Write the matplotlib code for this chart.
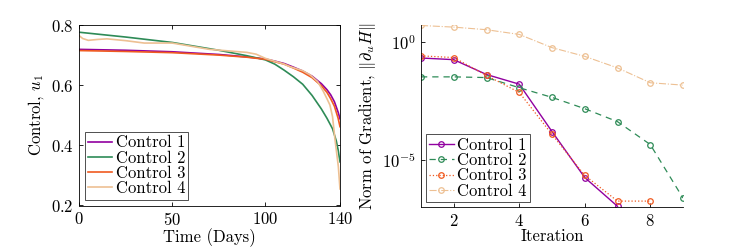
import matplotlib
matplotlib.use("Agg")
import matplotlib.pyplot as plt
from matplotlib.ticker import LogFormatterMathtext, FixedLocator
import numpy as np

plt.rcParams['font.family'] = 'serif'
plt.rcParams['font.serif'] = ['cmr10']
plt.rcParams['mathtext.fontset'] = 'cm'
plt.rcParams['axes.formatter.use_mathtext'] = True

labels = ['Control 1', 'Control 2', 'Control 3', 'Control 4']
colors = ['#9100A0', '#2E8B57', '#F05A20', '#EDC093']

# Left panel: control trajectories
t1 = [0, 25, 50, 75, 90, 100, 105, 110, 115, 120, 125, 130, 133, 135, 137, 139, 140]
u1 = [0.719, 0.716, 0.711, 0.702, 0.694, 0.687, 0.680, 0.672, 0.660, 0.647, 0.630, 0.605, 0.585, 0.568, 0.545, 0.510, 0.488]
t2 = [0, 25, 50, 75, 90, 100, 105, 110, 115, 120, 125, 130, 133, 136, 138, 139, 140]
u2 = [0.776, 0.760, 0.742, 0.716, 0.698, 0.684, 0.670, 0.650, 0.628, 0.603, 0.566, 0.521, 0.490, 0.455, 0.415, 0.385, 0.345]
t3 = [0, 25, 50, 75, 90, 100, 110, 115, 120, 125, 130, 133, 135, 137, 139, 140]
u3 = [0.715, 0.712, 0.708, 0.700, 0.693, 0.686, 0.670, 0.657, 0.643, 0.625, 0.598, 0.576, 0.555, 0.530, 0.490, 0.462]
t4 = [0, 2, 5, 10, 15, 25, 35, 50, 70, 90, 95, 100, 110, 113, 120, 124, 128, 131, 133, 134.6, 136, 137.3, 139.1, 140]
u4 = [0.765, 0.755, 0.749, 0.752, 0.754, 0.748, 0.740, 0.740, 0.719, 0.709, 0.703, 0.689, 0.670, 0.662, 0.648, 0.634, 0.612, 0.580, 0.555, 0.534, 0.495, 0.420, 0.330, 0.255]

it1 = [1, 2, 3, 4, 5, 6, 7]
g1 = [-0.68, -0.75, -1.38, -1.79, -3.80, -5.75, -6.97]
it2 = [1, 2, 3, 4, 5, 6, 7, 8, 9]
g2 = [-1.48, -1.48, -1.51, -1.94, -2.35, -2.83, -3.38, -4.35, -6.62]
it3 = [1, 2, 3, 4, 5, 6, 7, 8]
g3 = [-0.59, -0.66, -1.42, -2.14, -3.92, -5.66, -6.75, -6.75]
it4 = [1, 2, 3, 4, 5, 6, 7, 8, 9]
g4 = [0.70, 0.63, 0.52, 0.32, -0.24, -0.61, -1.10, -1.73, -1.83]

fig = plt.figure(figsize=(7.36, 2.5), dpi=100)
W, H = 736, 250
ax1 = fig.add_axes([79 / W, 1 - 205.5 / H, (340 - 79) / W, (205.5 - 25) / H])
ax2 = fig.add_axes([421 / W, 1 - 207 / H, (683 - 421) / W, (207 - 25) / H])

fs = 12
for t, u, c, l in zip([t1, t2, t3, t4], [u1, u2, u3, u4], colors, labels):
    ax1.plot(t, u, color=c, lw=1.2, label=l)
ax1.set_xlim(0, 140)
ax1.set_ylim(0.2, 0.8)
ax1.set_xticks([0, 50, 100, 140])
ax1.set_yticks([0.2, 0.4, 0.6, 0.8])
ax1.set_xlabel('Time (Days)', fontsize=fs, labelpad=0)
ax1.set_ylabel('Control, $u_1$', fontsize=fs, labelpad=3)
ax1.tick_params(direction='in', labelsize=fs, top=True, right=True, length=3, pad=4, width=0.6)
for s in ax1.spines.values():
    s.set_linewidth(0.6)
leg1 = ax1.legend(loc='lower left', fontsize=fs, frameon=True, fancybox=False,
                  edgecolor='black', handlelength=1.45, handletextpad=0.2,
                  borderpad=0.2, labelspacing=0.0, borderaxespad=0.35)
leg1.get_frame().set_linewidth(0.6)

styles = ['-', (0, (5, 4)), ':', '-.']
lws = [1.0, 0.9, 0.9, 0.8]
for it, g, c, l, ls, lw in zip([it1, it2, it3, it4], [g1, g2, g3, g4], colors, labels, styles, lws):
    ax2.semilogy(it, 10.0 ** np.array(g), color=c, ls=ls, lw=lw, marker='o', ms=4,
                 mfc='none', mew=0.9, label=l)
ax2.set_xlim(1, 9)
ax2.set_ylim(1e-7, 10 ** 0.72)
ax2.set_xticks([2, 4, 6, 8])
ax2.yaxis.set_major_locator(FixedLocator([1e-5, 1e0]))
ax2.yaxis.set_major_formatter(LogFormatterMathtext())
ax2.yaxis.set_minor_locator(FixedLocator([]))
ax2.set_xlabel('Iteration', fontsize=fs, labelpad=0)
ax2.set_ylabel(r'Norm of Gradient, $\|\partial_u H\|$', fontsize=fs, labelpad=3)
ax2.tick_params(direction='in', labelsize=fs, length=3, pad=4, width=0.6)
ax2.spines['top'].set_visible(False)
ax2.spines['right'].set_visible(False)
for s in ax2.spines.values():
    s.set_linewidth(0.6)
leg2 = ax2.legend(loc='lower left', fontsize=fs, frameon=True, fancybox=False,
                  edgecolor='black', handlelength=1.45, handletextpad=0.2,
                  borderpad=0.2, labelspacing=0.0, borderaxespad=0.3)
leg2.get_frame().set_linewidth(0.6)

fig.savefig('out.png', dpi=100)
